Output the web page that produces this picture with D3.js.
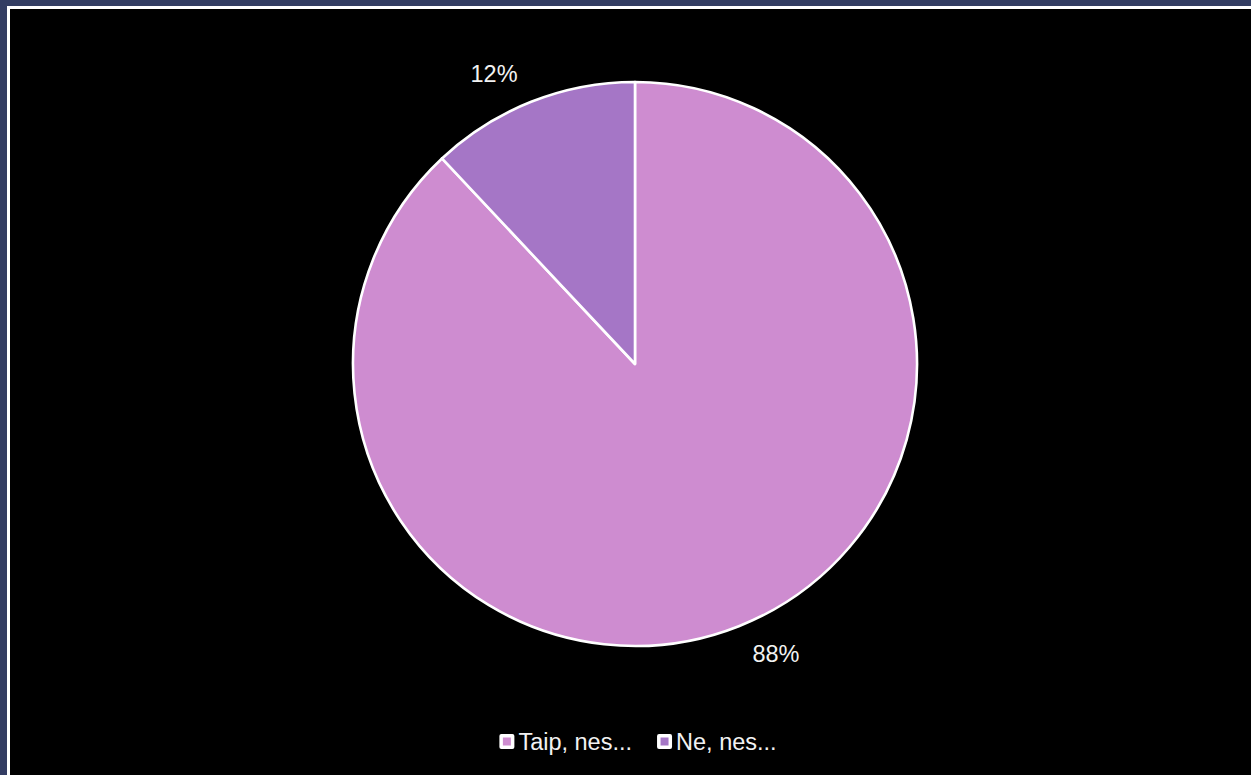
<!DOCTYPE html>
<html><head><meta charset="utf-8">
<script src="https://cdn.jsdelivr.net/npm/d3@7"></script>
<style>html,body{margin:0;padding:0;background:#333d63;}svg{display:block;}</style>
</head><body>
<svg id="c" width="1251" height="775"></svg>
<script>
const categories = ["Taip, nes...", "Ne, nes..."];
const values = [88, 12];
const labels = ["88%", "12%"];
const colors = ["#ce8cd0", "#a576c6"];

const W = 1251, H = 775;
const svg = d3.select("#c");
svg.append("rect").attr("x",0).attr("y",0).attr("width",W).attr("height",H).attr("fill","#333d63");
svg.append("rect").attr("x",7).attr("y",6).attr("width",W-7).attr("height",H-6).attr("fill","#ffffff");
svg.append("rect").attr("x",10).attr("y",9).attr("width",W-10).attr("height",H-9).attr("fill","#000000");

const cx = 635, cy = 364, R = 282;
const pie = d3.pie().sort(null).value(d=>d)(values);
const arc = d3.arc().innerRadius(0).outerRadius(R);
const g = svg.append("g").attr("transform",`translate(${cx},${cy})`);
g.selectAll("path").data(pie).join("path")
  .attr("d",arc).attr("fill",(d,i)=>colors[i])
  .attr("stroke","#ffffff").attr("stroke-width",2.6).attr("stroke-linejoin","round");

const font = "'Liberation Sans', Arial, sans-serif";
const fs = 23.5;
pie.forEach((d,i)=>{
  const a = (d.startAngle+d.endAngle)/2;
  const rr = R + 18;
  const sx = Math.sin(a), sy = -Math.cos(a);
  const x = rr*sx + (sx<0?-7:7);
  const y = rr*sy + (sy<0?-3:3);
  g.append("text").attr("x",x).attr("y",y)
    .attr("text-anchor", sx<0?"end":"start")
    .attr("dominant-baseline", sy<0?"auto":"hanging")
    .attr("dy", sy<0? 0 : "-0.05em")
    .attr("fill","#f2f2f2").attr("font-family",font).attr("font-size",fs)
    .text(labels[i]);
});

// legend
const lg = svg.append("g");
const items = lg.selectAll("g").data(categories).join("g");
let xpos = 0;
items.each(function(d,i){
  const it = d3.select(this);
  it.append("rect").attr("x",0).attr("y",-7.5).attr("width",15).attr("height",15).attr("rx",2).attr("fill","#ffffff");
  it.append("rect").attr("x",3.5).attr("y",-4).attr("width",8).attr("height",8).attr("fill",colors[i]);
  const t = it.append("text").attr("x",19).attr("y",0).attr("dy","0.35em")
    .attr("fill","#f2f2f2").attr("font-family",font).attr("font-size",fs).text(d);
  const w = t.node().getComputedTextLength();
  it.attr("transform",`translate(${xpos},0)`);
  xpos += 19 + w + 25;
});
const total = xpos - 25;
lg.attr("transform",`translate(${638 - total/2},741.5)`);
</script>
</body></html>
